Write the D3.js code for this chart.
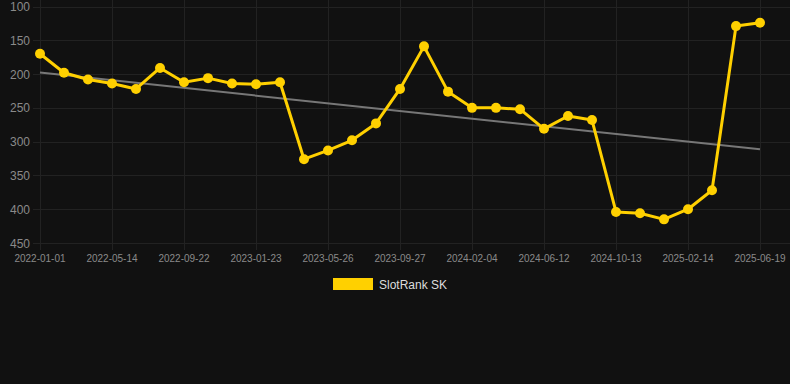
<!DOCTYPE html>
<html><head><meta charset="utf-8">
<script src="https://cdn.jsdelivr.net/npm/d3@7"></script>
<style>
html,body{margin:0;padding:0;background:#111111;}
svg{display:block;}
</style></head>
<body>
<svg id="c" width="790" height="384"></svg>
<script>
const dates = ["2022-01-01","2022-02-14","2022-03-30","2022-05-14","2022-06-27","2022-08-09","2022-09-22","2022-11-02","2022-12-13","2023-01-23","2023-03-06","2023-04-15","2023-05-26","2023-07-08","2023-08-16","2023-09-27","2023-11-07","2023-12-21","2024-02-04","2024-03-16","2024-04-28","2024-06-12","2024-07-23","2024-09-01","2024-10-13","2024-11-26","2025-01-02","2025-02-14","2025-03-28","2025-05-08","2025-06-19"];
const ranks = [170,198,208,214,222,191,212,206,214,215,212,326,313,298,273,222,159,226,250,250,252,281,262,268,404,406,415,400,372,129,124];
const yTicks = [100,150,200,250,300,350,400,450];
const seriesName = "SlotRank SK";

const svg = d3.select("#c");
const W = 790, H = 384;
const x = d3.scalePoint().domain(dates).range([40, 760]);
const y = d3.scaleLinear().domain([100,450]).range([6.5, 243]);

svg.append("rect").attr("width",W).attr("height",H).attr("fill","#111111");

// grid
const g = svg.append("g");
g.selectAll("line.h").data(yTicks).enter().append("line")
  .attr("x1",33).attr("x2",790).attr("y1",d=>Math.round(y(d))+0.5).attr("y2",d=>Math.round(y(d))+0.5)
  .attr("stroke","#222222").attr("stroke-width",1);
const xTickDates = dates.filter((d,i)=>i%3===0);
g.selectAll("line.v").data(xTickDates).enter().append("line")
  .attr("x1",d=>Math.round(x(d))+0.5).attr("x2",d=>Math.round(x(d))+0.5)
  .attr("y1",0).attr("y2",250)
  .attr("stroke","#222222").attr("stroke-width",1);

// y labels
svg.append("g").selectAll("text").data(yTicks).enter().append("text")
  .attr("x",30).attr("y",d=>y(d)+4.5).attr("text-anchor","end")
  .attr("fill","#8a8a8a").attr("font-family","Liberation Sans, Arial, sans-serif").attr("font-size",12)
  .text(d=>d);
// x labels
svg.append("g").selectAll("text").data(xTickDates).enter().append("text")
  .attr("x",d=>x(d)).attr("y",262).attr("text-anchor","middle")
  .attr("fill","#8a8a8a").attr("font-family","Liberation Sans, Arial, sans-serif").attr("font-size",10)
  .text(d=>d);

// trend line (least squares)
const n = ranks.length;
const idx = d3.range(n);
const mx = d3.mean(idx), my = d3.mean(ranks);
const slope = d3.sum(idx, i=>(i-mx)*(ranks[i]-my)) / d3.sum(idx, i=>(i-mx)*(i-mx));
const icpt = my - slope*mx;
svg.append("line")
  .attr("x1",x(dates[0])).attr("y1",y(icpt))
  .attr("x2",x(dates[n-1])).attr("y2",y(icpt+slope*(n-1)))
  .attr("stroke","#777777").attr("stroke-width",2);

// series line
const line = d3.line().x((d,i)=>x(dates[i])).y(d=>y(d));
svg.append("path").datum(ranks).attr("d",line)
  .attr("fill","none").attr("stroke","#FFD000").attr("stroke-width",3).attr("stroke-linejoin","round");
svg.append("g").selectAll("circle").data(ranks).enter().append("circle")
  .attr("cx",(d,i)=>x(dates[i])).attr("cy",d=>y(d)).attr("r",5)
  .attr("fill","#FFD000");

// legend
svg.append("rect").attr("x",333).attr("y",278).attr("width",40).attr("height",12).attr("fill","#FFD000");
svg.append("text").attr("x",379).attr("y",289).attr("fill","#dddddd")
  .attr("font-family","Liberation Sans, Arial, sans-serif").attr("font-size",12).text(seriesName);
</script>
</body></html>
